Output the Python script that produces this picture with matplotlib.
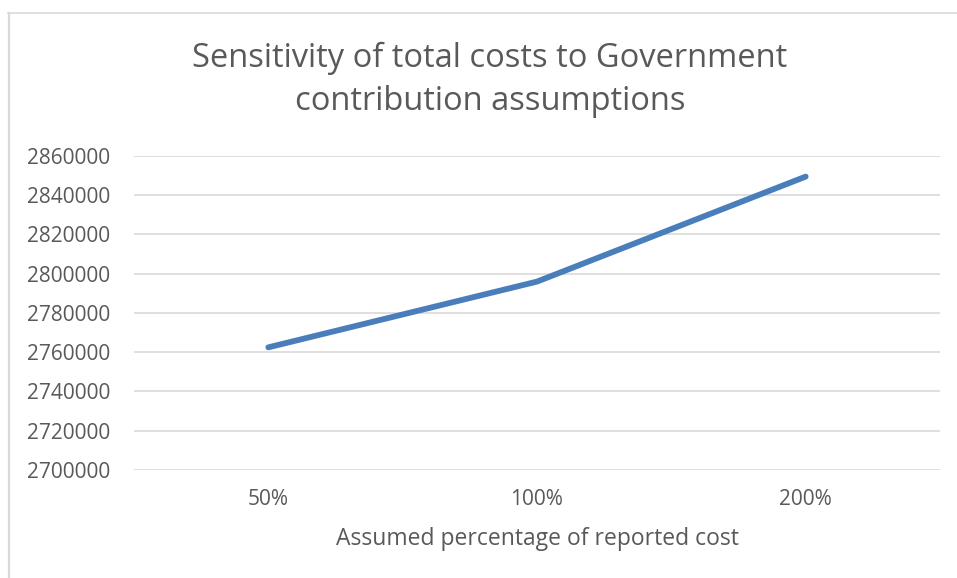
import matplotlib
matplotlib.use("Agg")
import matplotlib.pyplot as plt
from matplotlib.lines import Line2D

categories = ["50%", "100%", "200%"]
total_costs = [2762500, 2796000, 2849500]
y_ticks = list(range(2700000, 2860001, 20000))

title = "Sensitivity of total costs to Government\ncontribution assumptions"
x_label = "Assumed percentage of reported cost"

W, H = 957, 578
plt.rcParams["font.family"] = ["Open Sans", "DejaVu Sans"]
text_color = "#595959"
grid_color = "#d9d9d9"

fig = plt.figure(figsize=(W / 100, H / 100), dpi=100)
ax = fig.add_axes([134 / W, 1 - 470 / H, (940 - 134) / W, (470 - 156) / H])

x = list(range(len(categories)))
ax.plot(x, total_costs, color="#4a7ebb", linewidth=4.2,
        solid_capstyle="round", solid_joinstyle="round", zorder=3)

ax.set_xlim(-0.5, len(categories) - 0.5)
ax.set_ylim(y_ticks[0], y_ticks[-1])
ax.set_yticks(y_ticks)
ax.set_yticklabels([str(v) for v in y_ticks])
ax.set_xticks(x)
ax.set_xticklabels(categories)

ax.grid(axis="y", color=grid_color, linewidth=1.2)
ax.set_axisbelow(True)
for s in ax.spines.values():
    s.set_visible(False)
ax.tick_params(axis="both", length=0, labelsize=15, colors=text_color)
ax.tick_params(axis="y", pad=17)
ax.tick_params(axis="x", pad=14)

ax.set_xlabel(x_label, fontsize=16.5, color=text_color, labelpad=12)

fig.text(490 / W, 1 - 80 / H, title, ha="center", va="center",
         fontsize=23.5, color=text_color, linespacing=1.4)

# chart-area outline (top and left edges)
fig.add_artist(Line2D([8 / W, 1], [1 - 12.5 / H, 1 - 12.5 / H],
                      transform=fig.transFigure, color="#d9d9d9", linewidth=1.2))
fig.add_artist(Line2D([9 / W, 9 / W], [0, 1 - 12.5 / H],
                      transform=fig.transFigure, color="#d9d9d9", linewidth=1.6))

fig.savefig("out.png", dpi=100)
